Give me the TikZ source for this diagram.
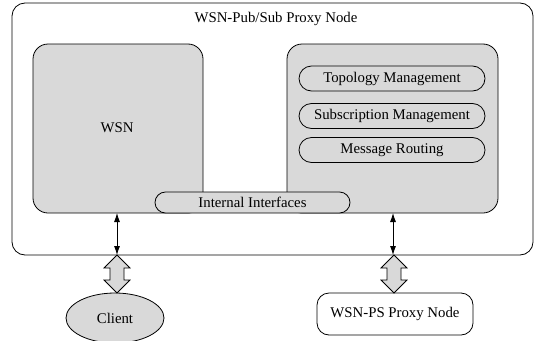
\documentclass[tikz,border=0pt]{standalone}
\usepackage{fontspec}
\setmainfont{Liberation Serif}
\usetikzlibrary{shapes.misc,shapes.geometric,arrows.meta}
\definecolor{boxgray}{RGB}{217,217,217}
\begin{document}
\begin{tikzpicture}[x=1pt,y=-1pt,
  every node/.style={font=\fontsize{14.8}{16}\selectfont, inner sep=0pt, outer sep=0pt},
  frame/.style={draw, line width=0.8pt, rounded corners=#1},
  pill/.style={draw, line width=0.8pt, fill=boxgray, rounded rectangle, minimum width=186pt, minimum height=25pt},
  dbl/.style={line width=0.8pt, {Latex[length=9pt,width=6pt]}-{Latex[length=9pt,width=6pt]}},
  hollow/.style={draw, line width=0.8pt, fill=boxgray, line join=miter}
]
\useasboundingbox (0,0) rectangle (534,340);
% outer frame
\node[frame=13pt, minimum width=521pt, minimum height=252pt] (outer) at (272.5,129) {};
\node (title) at (276,19) {WSN-Pub/Sub Proxy Node};
% WSN box
\node[frame=15pt, fill=boxgray, minimum width=170pt, minimum height=169pt] (wsn) at (118,128.5) {};
\node (wsnlabel) at (117,128) {WSN};
% right box
\node[frame=15pt, fill=boxgray, minimum width=211pt, minimum height=169pt] (pubsub) at (392.5,128.5) {};
\node[pill] (topo) at (392,78.5) {Topology Management};
\node[pill] (subs) at (392,116) {Subscription Management};
\node[pill] (route) at (392,150) {Message Routing};
% internal interfaces
\node[pill, minimum width=195pt, minimum height=21pt] (intf) at (252.5,202.5) {Internal Interfaces};
% external nodes
\node[draw, line width=0.8pt, fill=boxgray, ellipse, minimum width=98pt, minimum height=50pt] (client) at (115,318) {Client};
\node[frame=12pt, minimum width=156pt, minimum height=42pt] (proxy) at (395,314) {WSN-PS Proxy Node};
% thin double arrows
\coordinate (la) at (117,213);
\coordinate (lb) at (117,255);
\coordinate (ra) at (393,213);
\coordinate (rb) at (393,255);
\draw[dbl] (la) -- (lb);
\draw[dbl] (ra) -- (rb);
% hollow double arrows
\foreach \cx in {117,394}{
  \draw[hollow] (\cx,255) -- (\cx+13,268) -- (\cx+7,268) -- (\cx+7,280) -- (\cx+13,280)
    -- (\cx,293) -- (\cx-13,280) -- (\cx-7,280) -- (\cx-7,268) -- (\cx-13,268) -- cycle;
}
\end{tikzpicture}
\end{document}
